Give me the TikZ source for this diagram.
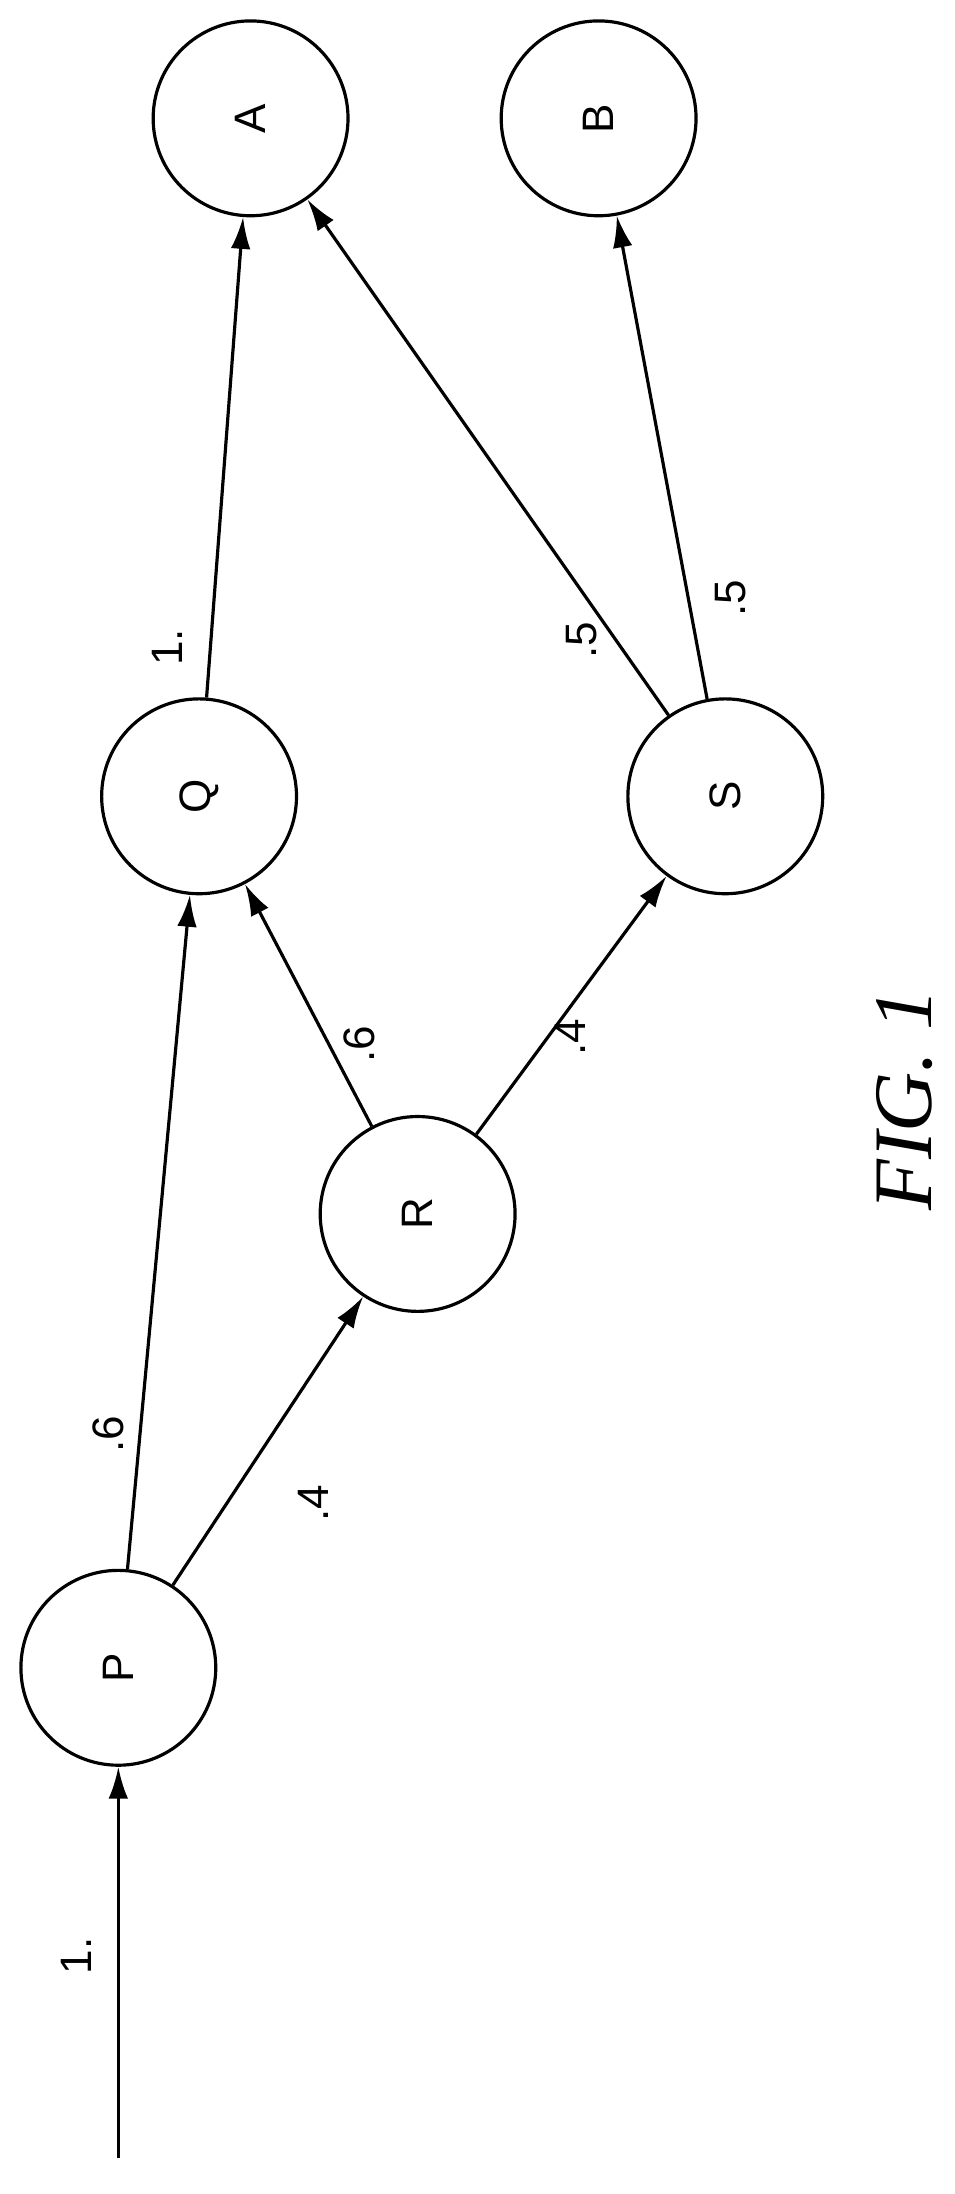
\documentclass[tikz,border=0pt]{standalone}
\usepackage{fontspec}
\setmainfont{Liberation Sans}
\newfontfamily\figfont{Liberation Serif}
\usetikzlibrary{arrows.meta}
\begin{document}
\begin{tikzpicture}[x=0.02cm,y=-0.02cm,
  st/.style={circle,draw,line width=1.3pt,minimum size=2.8cm,inner sep=0pt,font=\fontsize{18}{20}\selectfont,rotate=90},
  ar/.style={line width=1.3pt,-{Latex[length=13pt,width=8pt]}},
  lb/.style={rotate=90,font=\fontsize{18}{20}\selectfont}]
\useasboundingbox (0,0) rectangle (686,1576);
\node[st] (A) at (180,85) {A};
\node[st] (B) at (430,85) {B};
\node[st] (Q) at (143,572) {Q};
\node[st] (S) at (521,572) {S};
\node[st] (R) at (300,872) {R};
\node[st] (P) at (85,1198) {P};
\coordinate (in) at (85,1550);
\draw[ar] (in) -- (P);
\draw[ar] (P) -- (Q);
\draw[ar] (P) -- (R);
\draw[ar] (R) -- (Q);
\draw[ar] (R) -- (S);
\draw[ar] (Q) -- (A);
\draw[ar] (S) -- (A);
\draw[ar] (S) -- (B);
\node[lb] (l1) at (55,1405) {1.};
\node[lb] (l2) at (78,1030) {.6};
\node[lb] (l3) at (225,1080) {.4};
\node[lb] (l4) at (258,750) {.6};
\node[lb] (l5) at (410,745) {.4};
\node[lb] (l6) at (120,465) {1.};
\node[lb] (l7) at (418,460) {.5};
\node[lb] (l8) at (525,430) {.5};
\node[rotate=90,font=\figfont\itshape\fontsize{34}{36}\selectfont] (fig) at (650,790) {FIG. 1};
\end{tikzpicture}
\end{document}
